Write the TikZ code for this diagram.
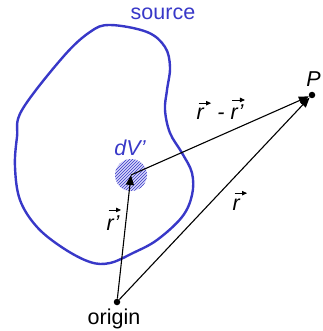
\documentclass[tikz,border=0pt]{standalone}
\usepackage{fontspec}
\setmainfont{Liberation Sans}
\usetikzlibrary{arrows.meta,patterns}
\definecolor{srcblue}{RGB}{56,56,200}
\definecolor{hatchfill}{RGB}{215,215,248}
\newcommand\prm{\char"27\relax}
\newcommand\vecarr[1]{\leavevmode\vbox{\offinterlineskip\halign{##\hfil\cr\kern1.5pt\tikz\draw[-{Triangle[length=5pt,width=4.5pt]},line width=0.8pt] (0pt,0pt)--(12.5pt,0pt);\cr\noalign{\kern3pt}#1\cr}}}
\begin{document}
\begin{tikzpicture}[x=1pt,y=-1pt,
  vec/.style={draw=black,line width=1.1pt,-{Triangle[length=10pt,width=8pt]}},
  dot/.style={circle,fill=black,inner sep=0pt,minimum size=6.5pt},
  lbl/.style={inner sep=0pt,font=\fontsize{21.5}{24}\selectfont},
  ilbl/.style={lbl,font=\fontsize{21.5}{24}\selectfont\itshape}]
\useasboundingbox (0,0) rectangle (322,331);
% source region
\draw[srcblue,line width=2.4pt] plot[smooth cycle,tension=0.6] coordinates {
 (22,110) (63,57) (90,32) (110,25) (147,32) (165,47) (170,67) (167,90)
 (165,110) (170,133) (182,153) (192,173) (192,195) (182,217) (157,240)
 (133,253) (110,263) (90,262) (63,248) (37,227) (20,200) (15,167) (17,137)};
\node[lbl,text=srcblue,anchor=base] (src) at (163,20) {source};
% volume element
\node[circle,minimum size=32pt,inner sep=0pt,fill=hatchfill] (dvc) at (131,175) {};
\path[pattern={north east lines},pattern color=srcblue] (131,175) circle[radius=16];
\coordinate (dv) at (131,175);
\node[ilbl,text=srcblue,anchor=base] (dvl) at (130,155) {dV\prm};
% points
\node[dot] (O) at (117,302) {};
\node[dot] (P) at (312,95) {};
\node[ilbl,anchor=base east] (Pl) at (321,87) {P};
\node[lbl,anchor=base] (orl) at (114,324) {origin};
% vectors
\draw[vec] (O) -- (dv);
\draw[vec] (dv) -- (P);
\draw[vec] (O) -- (P);
\node[ilbl,anchor=base] (rrl) at (221,120) {\vecarr{r} - \vecarr{r\prm}};
\node[ilbl,anchor=base] (rl) at (240,210) {\vecarr{r}};
\node[ilbl,anchor=base] (rpl) at (114,230) {\vecarr{r\prm}};
\end{tikzpicture}
\end{document}
